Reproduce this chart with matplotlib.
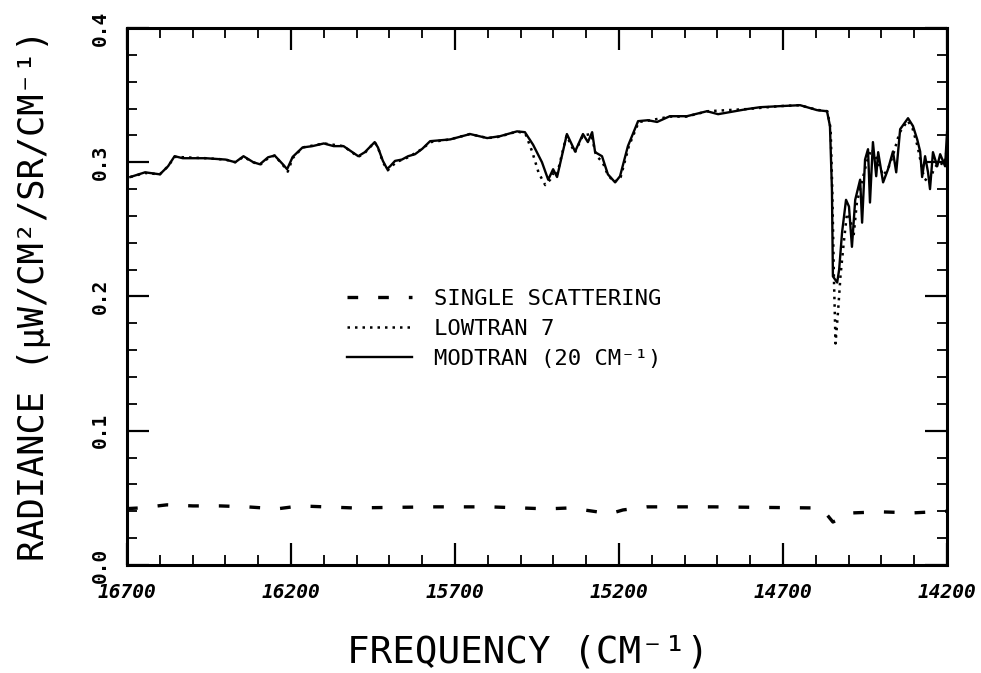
import numpy as np
import matplotlib
matplotlib.use("Agg")
import matplotlib.pyplot as plt
from matplotlib.ticker import MultipleLocator

# MODTRAN (20 cm-1) radiance
modtran_freq = [16690, 16645, 16600, 16575, 16555, 16530, 16460, 16400, 16370, 16345,
                16315, 16295, 16270, 16250, 16225, 16212, 16195, 16165, 16135, 16100,
                16070, 16040, 15995, 15975, 15945, 15935, 15920, 15907, 15898, 15883,
                15862, 15843, 15822, 15800, 15776, 15715, 15654, 15602, 15563, 15511,
                15487, 15462, 15435, 15416, 15401, 15389, 15359, 15334, 15310, 15295,
                15282, 15273, 15252, 15234, 15212, 15197, 15173, 15142, 15112, 15084,
                15045, 14993, 14932, 14898, 14810, 14770, 14709, 14648, 14596, 14566,
                14557, 14551, 14548, 14535, 14529, 14520, 14508, 14499, 14490, 14480,
                14465, 14459, 14450, 14441, 14435, 14426, 14416, 14410, 14395, 14380,
                14365, 14355, 14343, 14319, 14304, 14291, 14282, 14276, 14267, 14258,
                14252, 14243, 14230, 14221, 14206, 14200]
modtran_rad = [0.289, 0.2925, 0.291, 0.297, 0.3045, 0.303, 0.303, 0.302, 0.300, 0.3045,
               0.300, 0.2985, 0.3037, 0.305, 0.2985, 0.2948, 0.304, 0.311, 0.312, 0.314,
               0.312, 0.312, 0.3045, 0.3075, 0.315, 0.311, 0.301, 0.295, 0.297, 0.301,
               0.302, 0.3045, 0.306, 0.310, 0.3157, 0.317, 0.321, 0.318, 0.3194, 0.323,
               0.3224, 0.313, 0.300, 0.287, 0.2948, 0.289, 0.321, 0.308, 0.321, 0.315,
               0.3224, 0.3075, 0.3045, 0.291, 0.285, 0.2896, 0.312, 0.3306, 0.3313, 0.330,
               0.3343, 0.3343, 0.338, 0.3358, 0.3396, 0.341, 0.3418, 0.3425, 0.3388, 0.338,
               0.327, 0.280, 0.215, 0.2104, 0.220, 0.248, 0.272, 0.267, 0.237, 0.272,
               0.287, 0.255, 0.302, 0.3097, 0.270, 0.315, 0.2896, 0.3075, 0.285, 0.2948,
               0.308, 0.2925, 0.3246, 0.3328, 0.327, 0.317, 0.308, 0.289, 0.3045, 0.2925,
               0.280, 0.3075, 0.297, 0.306, 0.297, 0.3224]

# LOWTRAN 7
lowtran_freq = [16690, 16645, 16600, 16575, 16555, 16460, 16400, 16370, 16345, 16315,
                16295, 16270, 16250, 16225, 16210, 16195, 16165, 16100, 16040, 15995,
                15975, 15945, 15935, 15920, 15905, 15880, 15840, 15800, 15775, 15715,
                15655, 15600, 15565, 15510, 15485, 15465, 15445, 15425, 15410, 15400,
                15390, 15360, 15335, 15310, 15285, 15270, 15250, 15235, 15215, 15195,
                15170, 15140, 15110, 15045, 14995, 14930, 14810, 14710, 14650, 14595,
                14565, 14555, 14550, 14545, 14540, 14532, 14525, 14515, 14505, 14495,
                14485, 14475, 14460, 14445, 14430, 14410, 14395, 14380, 14365, 14345,
                14320, 14305, 14290, 14280, 14270, 14255, 14240, 14225, 14210, 14200]
lowtran_rad = [0.289, 0.292, 0.291, 0.297, 0.304, 0.303, 0.302, 0.300, 0.304, 0.300,
               0.298, 0.303, 0.305, 0.298, 0.293, 0.303, 0.311, 0.314, 0.312, 0.304,
               0.307, 0.315, 0.311, 0.300, 0.294, 0.300, 0.304, 0.310, 0.315, 0.317,
               0.321, 0.318, 0.319, 0.323, 0.321, 0.308, 0.292, 0.283, 0.287, 0.292,
               0.290, 0.320, 0.307, 0.320, 0.321, 0.305, 0.300, 0.291, 0.285, 0.289,
               0.312, 0.330, 0.331, 0.334, 0.334, 0.338, 0.3396, 0.3418, 0.3425, 0.339,
               0.338, 0.325, 0.280, 0.215, 0.165, 0.190, 0.215, 0.240, 0.262, 0.258,
               0.245, 0.270, 0.285, 0.300, 0.310, 0.300, 0.290, 0.295, 0.305, 0.322,
               0.331, 0.325, 0.312, 0.300, 0.288, 0.285, 0.295, 0.300, 0.298, 0.310]

# single scattering
single_freq = [16700, 16660, 16578, 16499, 16416, 16334, 16243, 16173, 16011, 15767,
               15593, 15420, 15349, 15267, 15230, 15188, 15115, 14913, 14608, 14578,
               14548, 14487, 14404, 14304, 14212, 14200]
single_rad = [0.042, 0.0425, 0.0448, 0.044, 0.044, 0.0433, 0.0418, 0.044, 0.0425, 0.0433,
              0.0433, 0.0418, 0.0425, 0.0396, 0.038, 0.041, 0.0433, 0.0433, 0.0425, 0.041,
              0.032, 0.0388, 0.0396, 0.0388, 0.040, 0.040]

x_ticks = [16700, 16200, 15700, 15200, 14700, 14200]
y_ticks = [0.0, 0.1, 0.2, 0.3, 0.4]

mono = "DejaVu Sans Mono"

fig = plt.figure(figsize=(9.81, 6.73), dpi=100)
ax = fig.add_axes([0.1295, 0.1605, 0.8359, 0.7979])

ax.plot(single_freq, single_rad, color="black", lw=2.4, dashes=(3.2, 6.0),
        label="SINGLE SCATTERING")
ax.plot(lowtran_freq, lowtran_rad, color="black", lw=1.8, linestyle=(0, (1, 2.0)),
        label="LOWTRAN 7")
ax.plot(modtran_freq, modtran_rad, color="black", lw=1.7, label="MODTRAN (20 CM⁻¹)")

ax.set_xlim(16700, 14200)
ax.set_ylim(0, 0.4)
ax.set_xticks(x_ticks)
ax.set_xticklabels([str(v) for v in x_ticks])
ax.set_yticks(y_ticks)
ax.set_yticklabels(["%.1f" % v for v in y_ticks])
ax.xaxis.set_minor_locator(MultipleLocator(100))
ax.yaxis.set_minor_locator(MultipleLocator(0.02))

for s in ax.spines.values():
    s.set_linewidth(2.2)
ax.tick_params(which="both", direction="in", top=True, right=True, color="black")
ax.tick_params(which="major", length=16, width=1.6)
ax.tick_params(which="minor", length=7, width=1.3)
ax.tick_params(axis="x", which="major", pad=13)
ax.tick_params(axis="y", which="major", pad=12)
for lab in ax.get_xticklabels():
    lab.set_fontfamily(mono)
    lab.set_fontsize(14)
    lab.set_fontweight("bold")
    lab.set_fontstyle("oblique")
for lab in ax.get_yticklabels():
    lab.set_fontfamily(mono)
    lab.set_fontsize(14)
    lab.set_fontweight("bold")
    lab.set_rotation(90)
    lab.set_va("center")

leg = ax.legend(loc="upper left", bbox_to_anchor=(0.255, 0.535), frameon=False,
                prop={"family": mono, "size": 16}, handlelength=2.9,
                handletextpad=1.0, labelspacing=0.45, borderpad=0)

fig.text(0.538, 0.03, "FREQUENCY (CM⁻¹)", family=mono, fontsize=27,
         ha="center", va="center")
fig.text(0.035, 0.5617, "RADIANCE (μW/CM²/SR/CM⁻¹)", family=mono, fontsize=25.5,
         ha="center", va="center", rotation=90)

fig.savefig("out.png", dpi=100)
